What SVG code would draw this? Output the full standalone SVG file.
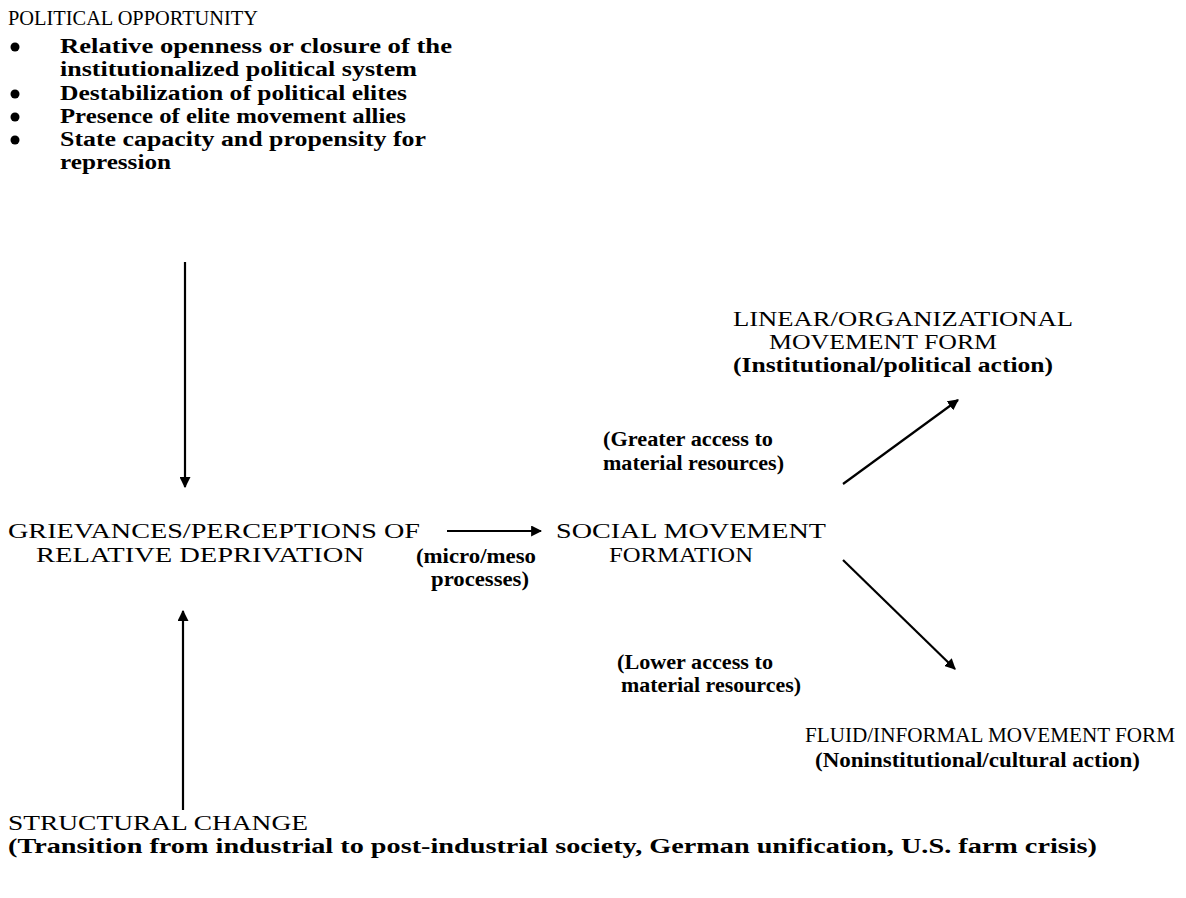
<svg xmlns="http://www.w3.org/2000/svg" width="1186" height="898" viewBox="0 0 1186 898">
<style>
text{font-family:"Liberation Serif","DejaVu Serif",serif;font-size:21px;fill:#000}
.b{font-weight:bold;font-size:20px}
.c{stroke:#000;stroke-width:2.2;fill:none}
</style>
<defs>
<marker id="ah" viewBox="0 0 10 10" refX="9" refY="5" markerWidth="5" markerHeight="5" orient="auto" markerUnits="strokeWidth">
<path d="M0,0 L10,5 L0,10 Z" fill="#000"/>
</marker>
</defs>
<rect width="1186" height="898" fill="#fff"/>
<g id="political-opportunity">
<text x="8" y="25" textLength="250" lengthAdjust="spacingAndGlyphs">POLITICAL OPPORTUNITY</text>
<circle cx="15" cy="47" r="4.5"/>
<circle cx="15" cy="94" r="4.5"/>
<circle cx="15" cy="117" r="4.5"/>
<circle cx="15" cy="140" r="4.5"/>
<text class="b" x="60" y="53" textLength="392" lengthAdjust="spacingAndGlyphs">Relative openness or closure of the</text>
<text class="b" x="60" y="76" textLength="357" lengthAdjust="spacingAndGlyphs">institutionalized political system</text>
<text class="b" x="60" y="100" textLength="347" lengthAdjust="spacingAndGlyphs">Destabilization of political elites</text>
<text class="b" x="60" y="123" textLength="346" lengthAdjust="spacingAndGlyphs">Presence of elite movement allies</text>
<text class="b" x="60" y="146" textLength="366" lengthAdjust="spacingAndGlyphs">State capacity and propensity for</text>
<text class="b" x="60" y="169" textLength="111" lengthAdjust="spacingAndGlyphs">repression</text>
</g>
<g id="grievances">
<text x="8" y="538" textLength="412" lengthAdjust="spacingAndGlyphs">GRIEVANCES/PERCEPTIONS OF</text>
<text x="36" y="562" textLength="328" lengthAdjust="spacingAndGlyphs">RELATIVE DEPRIVATION</text>
</g>
<g id="social-movement-formation">
<text x="556" y="538" textLength="270" lengthAdjust="spacingAndGlyphs">SOCIAL MOVEMENT</text>
<text x="609" y="562" textLength="144" lengthAdjust="spacingAndGlyphs">FORMATION</text>
</g>
<g id="linear-organizational">
<text x="733" y="326" textLength="340" lengthAdjust="spacingAndGlyphs">LINEAR/ORGANIZATIONAL</text>
<text x="769" y="349" textLength="228" lengthAdjust="spacingAndGlyphs">MOVEMENT FORM</text>
<text class="b" x="733" y="372" textLength="320" lengthAdjust="spacingAndGlyphs">(Institutional/political action)</text>
</g>
<g id="fluid-informal">
<text x="805" y="742" textLength="370" lengthAdjust="spacingAndGlyphs">FLUID/INFORMAL MOVEMENT FORM</text>
<text class="b" x="815" y="767" textLength="325" lengthAdjust="spacingAndGlyphs">(Noninstitutional/cultural action)</text>
</g>
<g id="structural-change">
<text x="8" y="830" textLength="300" lengthAdjust="spacingAndGlyphs">STRUCTURAL CHANGE</text>
<text class="b" x="8" y="853" textLength="1089" lengthAdjust="spacingAndGlyphs">(Transition from industrial to post-industrial society, German unification, U.S. farm crisis)</text>
</g>
<g id="connectors">
<line class="c" x1="185" y1="262" x2="185" y2="487" marker-end="url(#ah)"/>
<line class="c" x1="183" y1="810" x2="183" y2="611" marker-end="url(#ah)"/>
<line class="c" x1="447" y1="531" x2="541" y2="531" marker-end="url(#ah)"/>
<line class="c" x1="843" y1="484" x2="958" y2="400" marker-end="url(#ah)"/>
<line class="c" x1="843" y1="560" x2="955" y2="669" marker-end="url(#ah)"/>
<text class="b" x="416" y="563" textLength="120" lengthAdjust="spacingAndGlyphs">(micro/meso</text>
<text class="b" x="431" y="586" textLength="98" lengthAdjust="spacingAndGlyphs">processes)</text>
<text class="b" x="603" y="446" textLength="170" lengthAdjust="spacingAndGlyphs">(Greater access to</text>
<text class="b" x="603" y="470" textLength="181" lengthAdjust="spacingAndGlyphs">material resources)</text>
<text class="b" x="617" y="669" textLength="156" lengthAdjust="spacingAndGlyphs">(Lower access to</text>
<text class="b" x="621" y="692" textLength="180" lengthAdjust="spacingAndGlyphs">material resources)</text>
</g>
</svg>
